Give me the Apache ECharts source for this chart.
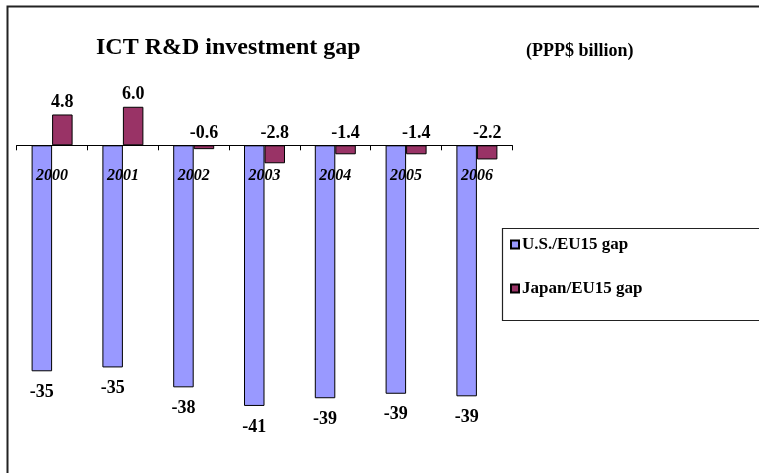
<!DOCTYPE html>
<html>
<head>
<meta charset="utf-8">
<script src="https://cdn.jsdelivr.net/npm/echarts@6/dist/echarts.min.js"></script>
<style>
  html, body { margin: 0; padding: 0; background: #fff; }
  #chart { width: 759px; height: 473px; }
</style>
</head>
<body>
<div id="chart"></div>
<script>
const years = ['2000', '2001', '2002', '2003', '2004', '2005', '2006']
// bar lengths, labels show them rounded
const usGap = [-35.2, -34.6, -37.7, -40.6, -39.4, -38.7, -39.1]
const japanGap = [4.8, 6.0, -0.6, -2.8, -1.4, -1.4, -2.2]
const seriesNames = ['U.S./EU15 gap', 'Japan/EU15 gap']

const serif = "'Liberation Serif', 'Times New Roman', serif"

const chart = echarts.init(document.getElementById('chart'))

const option = {
  backgroundColor: '#fff',
  animation: false,
  title: [
    {
      text: 'ICT R&D investment gap',
      left: 91,
      top: 31,
      textStyle: { fontFamily: serif, fontSize: 24, fontWeight: 'bold', color: '#000' }
    },
    {
      text: '(PPP$ billion)',
      left: 521,
      top: 37,
      textStyle: { fontFamily: serif, fontSize: 18, fontWeight: 'bold', color: '#000' }
    }
  ],
  graphic: [
    // outer frame (right and bottom edges fall off the picture)
    {
      type: 'rect',
      shape: { x: 7.5, y: 6.5, width: 800, height: 500 },
      style: { fill: 'none', stroke: '#222', lineWidth: 2 },
      silent: true
    },
    // legend box
    {
      type: 'rect',
      shape: { x: 502.5, y: 228.5, width: 300, height: 92 },
      style: { fill: 'none', stroke: '#222', lineWidth: 1.2 },
      silent: true
    }
  ],
  legend: {
    data: seriesNames,
    orient: 'vertical',
    left: 505,
    top: 231,
    itemWidth: 8,
    itemHeight: 8,
    itemGap: 27,
    icon: 'rect',
    textStyle: { fontFamily: serif, fontSize: 17, fontWeight: 'bold', color: '#000', padding: [0, 0, 0, -2] }
  },
  grid: {
    left: 16.7,
    right: 246.7,
    top: 81.1,
    bottom: 38.8
  },
  xAxis: {
    type: 'category',
    data: years,
    z: 10,
    axisLine: { lineStyle: { color: '#000', width: 1 } },
    axisTick: { show: true, length: 5, lineStyle: { color: '#000' } },
    axisLabel: {
      // labels sit at the grid bottom; pull them up just under the zero line
      margin: -266,
      fontFamily: serif,
      fontSize: 16,
      fontWeight: 'bold',
      fontStyle: 'italic',
      color: '#000'
    }
  },
  yAxis: {
    type: 'value',
    min: -45,
    max: 10,
    show: false,
    splitLine: { show: false }
  },
  series: [
    {
      name: seriesNames[0],
      type: 'bar',
      data: usGap,
      barWidth: 20.5,
      barGap: '0%',
      itemStyle: { color: '#9999FF', borderColor: '#000', borderWidth: 1 },
      label: {
        show: true,
        position: 'bottom',
        distance: 12,
        fontFamily: serif,
        fontSize: 18,
        fontWeight: 'bold',
        color: '#000',
        formatter: p => Math.round(p.value).toString()
      }
    },
    {
      name: seriesNames[1],
      type: 'bar',
      data: japanGap,
      barWidth: 20.5,
      barGap: '0%',
      itemStyle: { color: '#993366', borderColor: '#000', borderWidth: 1 },
      label: {
        show: true,
        position: 'top',
        distance: 3,
        fontFamily: serif,
        fontSize: 18,
        fontWeight: 'bold',
        color: '#000',
        formatter: p => p.value.toFixed(1)
      }
    }
  ]
}

chart.setOption(option)
</script>
</body>
</html>
